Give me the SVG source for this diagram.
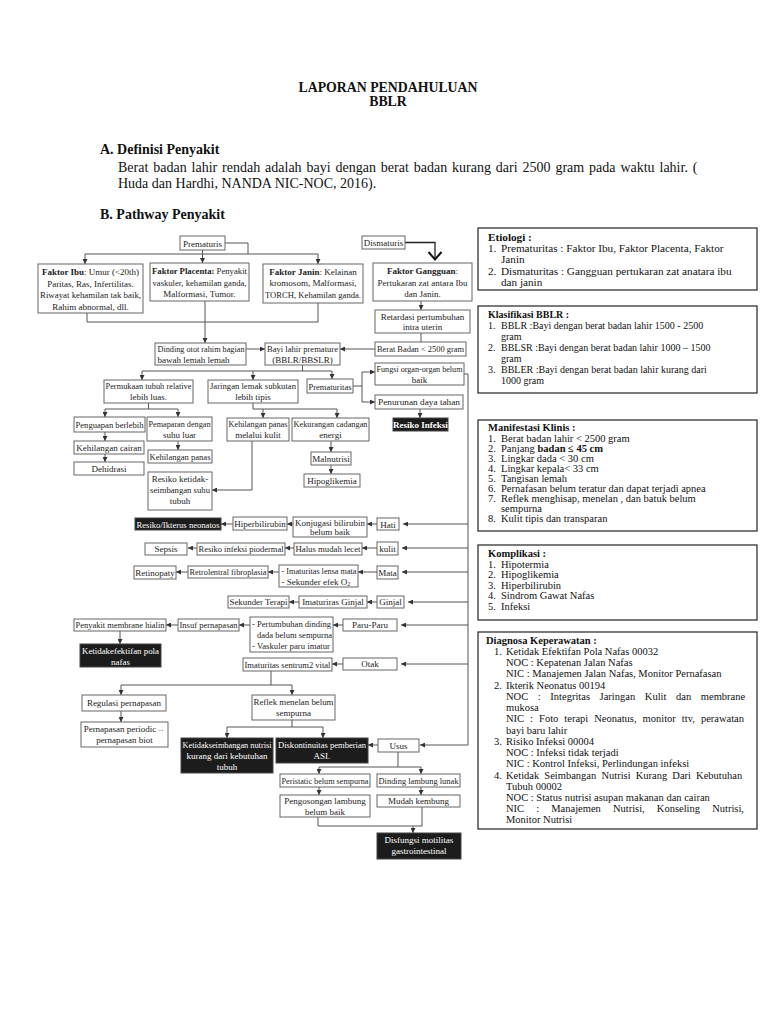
<svg xmlns="http://www.w3.org/2000/svg" width="768" height="1024" viewBox="0 0 768 1024">
<defs>
<style>
.bg{fill:#fff}
.h{font-family:"Liberation Serif",serif;font-weight:bold;fill:#111}
.p{font-family:"Liberation Serif",serif;font-size:14px;fill:#111}
.b{fill:#fff;stroke:#666;stroke-width:1}
.k{fill:#1c1c1c;stroke:#444;stroke-width:1}
.t{font-family:"Liberation Serif",serif;font-size:9px;fill:#222;text-anchor:middle}
.tl{font-family:"Liberation Serif",serif;font-size:9px;fill:#222}
.tw{font-family:"Liberation Serif",serif;font-size:9px;fill:#fff;text-anchor:middle}
.c{fill:none;stroke:#555;stroke-width:1}
.a{fill:none;stroke:#555;stroke-width:1;marker-end:url(#ah)}
.rb{fill:#fff;stroke:#222;stroke-width:1.2}
.r{font-family:"Liberation Serif",serif;font-size:10.5px;fill:#111}
.rh{font-family:"Liberation Serif",serif;font-size:10.5px;fill:#111;font-weight:bold}
.e{font-size:11.2px}
.s{font-size:10px}
</style>
<marker id="ah" viewBox="0 0 6 6" refX="6" refY="3" markerWidth="5" markerHeight="5" orient="auto" markerUnits="userSpaceOnUse"><path d="M0,0 L6,3 L0,6 z" fill="#333"/></marker>
</defs>
<rect class="bg" x="0" y="0" width="768" height="1024"/>

<g id="header">
<text class="h" x="388" y="92" font-size="13.8" text-anchor="middle">LAPORAN PENDAHULUAN</text>
<text class="h" x="388" y="106" font-size="13.8" text-anchor="middle">BBLR</text>
<text class="h" x="100" y="154" font-size="14">A.  Definisi Penyakit</text>
<text class="p" x="118" y="172" word-spacing="1.4">Berat badan lahir rendah adalah bayi dengan berat badan kurang dari 2500 gram pada waktu lahir. (</text>
<text class="p" x="118" y="188">Huda dan Hardhi, NANDA NIC-NOC, 2016).</text>
<text class="h" x="100" y="219" font-size="14">B.  Pathway Penyakit</text>
</g>

<g id="connectors">
<path class="a" d="M202.5,250 V263"/>
<path class="c" d="M225,243 H248 V254"/>
<path class="c" d="M85,254 H318"/>
<path class="a" d="M85,254 V264"/>
<path class="a" d="M318,254 V264"/>
<path class="c" d="M87,313 V322 H318 V303"/>
<path class="a" d="M205,301 V343"/>
<path fill="none" stroke="#222" stroke-width="1.3" d="M405,242.5 H435 V259"/>
<path fill="none" stroke="#111" stroke-width="2" d="M428.5,252 L435,259.5 L441.5,252"/>
<path class="a" d="M421,300 V310"/>
<path class="c" d="M421,333 V342"/>
<path class="a" d="M375,349 H340"/>
<path class="a" d="M246,349 H265"/>
<path class="c" d="M302.5,365 V371 M142,371 H332"/>
<path class="a" d="M142,371 V380"/>
<path class="a" d="M253,371 V380"/>
<path class="a" d="M332,371 V379"/>
<path class="c" d="M353,386 H362 M362,372 V402"/>
<path class="a" d="M362,372 H375"/>
<path class="a" d="M362,402 H375"/>
<path class="a" d="M420,409 V418"/>
<path class="c" d="M464,374 H468 V745"/>
<path class="a" d="M468,524 H403"/>
<path class="a" d="M468,548 H402"/>
<path class="a" d="M468,572 H402"/>
<path class="a" d="M468,602 H408"/>
<path class="a" d="M468,625 H401"/>
<path class="a" d="M468,664 H401"/>
<path class="a" d="M468,745 H420"/>
<path class="c" d="M148.5,403 V409 M105,409 H178"/>
<path class="a" d="M105,409 V417"/>
<path class="a" d="M178,409 V417"/>
<path class="a" d="M105,432 V441"/>
<path class="a" d="M105,454 V462"/>
<path class="a" d="M178,441 V450"/>
<path class="c" d="M253,403 V409 H337"/>
<path class="a" d="M263,409 V418"/>
<path class="a" d="M337,409 V418"/>
<path class="a" d="M252,441 V490 H212"/>
<path class="a" d="M331,441 V452"/>
<path class="a" d="M331,465 V474"/>
<path class="a" d="M377,524 H367"/>
<path class="a" d="M293,524 H287"/>
<path class="a" d="M233,524 H221"/>
<path class="a" d="M377,548 H362"/>
<path class="a" d="M294,548 H285"/>
<path class="a" d="M197,548 H188"/>
<path class="a" d="M377,572 H358"/>
<path class="a" d="M279,572 H268"/>
<path class="a" d="M188,572 H176"/>
<path class="a" d="M377,602 H367"/>
<path class="a" d="M299,602 H289"/>
<path class="a" d="M343,625 H333"/>
<path class="a" d="M250,625 H239"/>
<path class="a" d="M178,625 H166"/>
<path class="a" d="M120,631 V644"/>
<path class="a" d="M343,664 H332"/>
<path class="c" d="M271,671 V685 M121,685 H292"/>
<path class="a" d="M121,685 V695"/>
<path class="a" d="M292,685 V695"/>
<path class="a" d="M121,711 V722"/>
<path class="c" d="M292,720 V727 M227,727 H323"/>
<path class="a" d="M227,727 V738"/>
<path class="a" d="M323,727 V738"/>
<path class="a" d="M378,745 H368"/>
<path class="c" d="M398,752 V767 M319,767 H421"/>
<path class="a" d="M319,767 V774"/>
<path class="a" d="M421,767 V774"/>
<path class="a" d="M319,787 V795"/>
<path class="a" d="M421,787 V795"/>
<path class="c" d="M318,817 V826 H422 V807"/>
<path class="a" d="M413,826 V833"/>
</g>

<g id="prematuris"><rect class="b" x="180" y="236" width="45" height="14"/><text class="t" x="202.5" y="246.5">Prematuris</text></g>
<g id="dismaturis"><rect class="b" x="362" y="236" width="43" height="13"/><text class="t" x="383.5" y="246">Dismaturis</text></g>
<g id="faktor-ibu"><rect class="b" x="38" y="264" width="105" height="49"/>
<text class="t" x="90.5" y="275"><tspan font-weight="bold">Faktor Ibu</tspan>: Umur (&lt;20th)</text>
<text class="t" x="90.5" y="286.5">Paritas, Ras, Infertilitas.</text>
<text class="t" x="90.5" y="298" textLength="101" lengthAdjust="spacingAndGlyphs">Riwayat kehamilan tak baik,</text>
<text class="t" x="90.5" y="309.5">Rahim abnormal, dll.</text></g>
<g id="faktor-placenta"><rect class="b" x="150" y="263" width="99" height="38"/>
<text class="t" x="199.5" y="274" textLength="95" lengthAdjust="spacingAndGlyphs"><tspan font-weight="bold">Faktor Placenta:</tspan> Penyakit</text>
<text class="t" x="199.5" y="285.5" textLength="94" lengthAdjust="spacingAndGlyphs">vaskuler, kehamilan ganda,</text>
<text class="t" x="199.5" y="297">Malformasi, Tumor.</text></g>
<g id="faktor-janin"><rect class="b" x="263" y="264" width="100" height="39"/>
<text class="t" x="313" y="274.5"><tspan font-weight="bold">Faktor Janin</tspan>: Kelainan</text>
<text class="t" x="313" y="286">kromosom, Malformasi,</text>
<text class="t" x="313" y="297.5" textLength="96" lengthAdjust="spacingAndGlyphs">TORCH, Kehamilan ganda.</text></g>
<g id="faktor-gangguan"><rect class="b" x="373" y="263" width="99" height="38"/>
<text class="t" x="422.5" y="274"><tspan font-weight="bold">Faktor Gangguan</tspan>:</text>
<text class="t" x="422.5" y="285.5">Pertukaran zat antara Ibu</text>
<text class="t" x="422.5" y="297">dan Janin.</text></g>
<g id="retardasi"><rect class="b" x="375" y="310" width="95" height="23"/>
<text class="t" x="422.5" y="319.5">Retardasi pertumbuhan</text>
<text class="t" x="422.5" y="330">intra uterin</text></g>
<g id="berat-badan"><rect class="b" x="375" y="342" width="91" height="14"/><text class="t" x="420.5" y="352" textLength="87" lengthAdjust="spacingAndGlyphs">Berat Badan &lt; 2500 gram</text></g>
<g id="dinding-otot"><rect class="b" x="155" y="343" width="91" height="22"/>
<text class="tl" x="157.5" y="352" textLength="87" lengthAdjust="spacingAndGlyphs">Dinding otot rahim bagian</text>
<text class="tl" x="157.5" y="362.5">bawah lemah lemah</text></g>
<g id="bayi-lahir"><rect class="b" x="265" y="343" width="75" height="22"/>
<text class="t" x="302.5" y="352" textLength="71" lengthAdjust="spacingAndGlyphs">Bayi lahir premature</text>
<text class="t" x="302.5" y="362.5">(BBLR/BBSLR)</text></g>
<g id="permukaan"><rect class="b" x="104" y="380" width="89" height="23"/>
<text class="t" x="148.5" y="389" textLength="86" lengthAdjust="spacingAndGlyphs">Permukaan tubuh relative</text>
<text class="t" x="148.5" y="400">lebih luas.</text></g>
<g id="jaringan-lemak"><rect class="b" x="208" y="380" width="90" height="23"/>
<text class="t" x="253" y="389" textLength="86" lengthAdjust="spacingAndGlyphs">Jaringan lemak subkutan</text>
<text class="t" x="253" y="400">lebih tipis</text></g>
<g id="prematuritas"><rect class="b" x="307" y="379" width="46" height="14"/><text class="t" x="330" y="389.5" textLength="43" lengthAdjust="spacingAndGlyphs">Prematuritas</text></g>
<g id="fungsi-organ"><rect class="b" x="375" y="363" width="89" height="22"/>
<text class="t" x="419.5" y="372" textLength="86" lengthAdjust="spacingAndGlyphs">Fungsi organ-organ belum</text>
<text class="t" x="419.5" y="382.5">baik</text></g>
<g id="penurunan"><rect class="b" x="375" y="395" width="88" height="14"/><text class="t" x="419" y="405" textLength="82" lengthAdjust="spacingAndGlyphs">Penurunan daya tahan</text></g>
<g id="resiko-infeksi"><rect class="k" x="393" y="418" width="55" height="13"/><text class="tw" x="420.5" y="428" font-weight="bold">Resiko Infeksi</text></g>
<g id="penguapan"><rect class="b" x="74" y="417" width="71" height="15"/><text class="t" x="109.5" y="428" textLength="68" lengthAdjust="spacingAndGlyphs">Penguapan berlebih</text></g>
<g id="pemaparan"><rect class="b" x="147" y="417" width="65" height="24"/>
<text class="t" x="179.5" y="427" textLength="62" lengthAdjust="spacingAndGlyphs">Pemaparan dengan</text>
<text class="t" x="179.5" y="438">suhu luar</text></g>
<g id="kehilangan-cairan"><rect class="b" x="74" y="441" width="70" height="13"/><text class="t" x="109" y="451">Kehilangan cairan</text></g>
<g id="dehidrasi"><rect class="b" x="74" y="462" width="70" height="13"/><text class="t" x="109" y="472">Dehidrasi</text></g>
<g id="kehilangan-panas"><rect class="b" x="148" y="450" width="64" height="13"/><text class="t" x="180" y="460" textLength="61" lengthAdjust="spacingAndGlyphs">Kehilangan panas</text></g>
<g id="resiko-suhu"><rect class="b" x="148" y="472" width="64" height="38"/>
<text class="t" x="180" y="482">Resiko ketidak-</text>
<text class="t" x="180" y="493" textLength="60" lengthAdjust="spacingAndGlyphs">seimbangan suhu</text>
<text class="t" x="180" y="504">tubuh</text></g>
<g id="kehilangan-kulit"><rect class="b" x="227" y="418" width="62" height="23"/>
<text class="t" x="258" y="427" textLength="59" lengthAdjust="spacingAndGlyphs">Kehilangan panas</text>
<text class="t" x="258" y="438">melalui kulit</text></g>
<g id="kekurangan-energi"><rect class="b" x="292" y="418" width="77" height="23"/>
<text class="t" x="330.5" y="427" textLength="74" lengthAdjust="spacingAndGlyphs">Kekurangan cadangan</text>
<text class="t" x="330.5" y="438">energi</text></g>
<g id="malnutrisi"><rect class="b" x="311" y="452" width="40" height="13"/><text class="t" x="331" y="461.5">Malnutrisi</text></g>
<g id="hipoglikemia"><rect class="b" x="304" y="474" width="56" height="13"/><text class="t" x="332" y="484">Hipoglikemia</text></g>

<g id="hati"><rect class="b" x="377" y="518" width="22" height="12"/><text class="t" x="388" y="527.5">Hati</text></g>
<g id="konjugasi"><rect class="b" x="293" y="517" width="74" height="20"/>
<text class="t" x="330" y="525.5" textLength="70" lengthAdjust="spacingAndGlyphs">Konjugasi bilirubin</text>
<text class="t" x="330" y="535">belum baik</text></g>
<g id="hiperbilirubin"><rect class="b" x="233" y="517" width="54" height="13"/><text class="t" x="260" y="527">Hiperbilirubin</text></g>
<g id="ikterus"><rect class="k" x="135" y="518" width="86" height="12"/><text class="tw" x="178" y="527.5" textLength="83" lengthAdjust="spacingAndGlyphs">Resiko/Ikterus neonatos</text></g>
<g id="kulit"><rect class="b" x="377" y="542" width="21" height="13"/><text class="t" x="387.5" y="551.5">kulit</text></g>
<g id="halus"><rect class="b" x="294" y="543" width="68" height="12"/><text class="t" x="328" y="552" textLength="65" lengthAdjust="spacingAndGlyphs">Halus mudah lecet</text></g>
<g id="piodermal"><rect class="b" x="197" y="543" width="88" height="12"/><text class="t" x="241" y="552" textLength="85" lengthAdjust="spacingAndGlyphs">Resiko infeksi piodermal</text></g>
<g id="sepsis"><rect class="b" x="145" y="543" width="42" height="12"/><text class="t" x="166" y="552">Sepsis</text></g>
<g id="mata"><rect class="b" x="377" y="566" width="21" height="13"/><text class="t" x="387.5" y="575.5">Mata</text></g>
<g id="imaturitas-lensa"><rect class="b" x="279" y="565" width="79" height="22"/>
<text class="tl" x="281.5" y="574" textLength="75" lengthAdjust="spacingAndGlyphs">- Imaturitas lensa mata</text>
<text class="tl" x="281.5" y="584.5">- Sekunder efek O<tspan font-size="6" dy="1.5">2</tspan></text></g>
<g id="retrolentral"><rect class="b" x="188" y="566" width="80" height="12"/><text class="t" x="228" y="575" textLength="77" lengthAdjust="spacingAndGlyphs">Retrolentral fibroplasia</text></g>
<g id="retinopaty"><rect class="b" x="134" y="566" width="42" height="13"/><text class="t" x="155" y="575.5">Retinopaty</text></g>
<g id="ginjal"><rect class="b" x="377" y="596" width="27" height="12"/><text class="t" x="390.5" y="605">Ginjal</text></g>
<g id="imaturiras-ginjal"><rect class="b" x="299" y="596" width="68" height="12"/><text class="t" x="333" y="605">Imaturiras Ginjal</text></g>
<g id="sekunder-terapi"><rect class="b" x="228" y="596" width="61" height="12"/><text class="t" x="258.5" y="605" textLength="58" lengthAdjust="spacingAndGlyphs">Sekunder Terapi</text></g>
<g id="paru"><rect class="b" x="343" y="619" width="54" height="12"/><text class="t" x="370" y="628">Paru-Paru</text></g>
<g id="pertumbuhan"><rect class="b" x="250" y="617" width="83" height="35"/>
<text class="tl" x="252" y="627" textLength="79" lengthAdjust="spacingAndGlyphs">- Pertumbuhan dinding</text>
<text class="tl" x="257" y="638" textLength="75" lengthAdjust="spacingAndGlyphs">dada belum sempurna</text>
<text class="tl" x="252" y="649" textLength="78" lengthAdjust="spacingAndGlyphs">- Vaskuler paru imatur</text></g>
<g id="insuf"><rect class="b" x="178" y="619" width="61" height="12"/><text class="t" x="208.5" y="628" textLength="58" lengthAdjust="spacingAndGlyphs">Insuf pernapasan</text></g>
<g id="hialin"><rect class="b" x="74" y="619" width="92" height="12"/><text class="t" x="120" y="628" textLength="89" lengthAdjust="spacingAndGlyphs">Penyakit membrane hialin</text></g>
<g id="pola-nafas"><rect class="k" x="80" y="644" width="81" height="23"/>
<text class="tw" x="120.5" y="654" textLength="77" lengthAdjust="spacingAndGlyphs">Ketidakefektifan pola</text>
<text class="tw" x="120.5" y="664.5">nafas</text></g>
<g id="otak"><rect class="b" x="343" y="658" width="54" height="12"/><text class="t" x="370" y="667">Otak</text></g>
<g id="sentrum"><rect class="b" x="243" y="658" width="89" height="13"/><text class="t" x="287.5" y="667.5" textLength="86" lengthAdjust="spacingAndGlyphs">Imaturitas sentrum2 vital</text></g>
<g id="regulasi"><rect class="b" x="82" y="695" width="84" height="16"/><text class="t" x="124" y="706">Regulasi pernapasan</text></g>
<g id="periodic"><rect class="b" x="81" y="722" width="87" height="25"/>
<text class="t" x="124.5" y="732">Pernapasan periodic<tspan fill="#aaa">→</tspan></text>
<text class="t" x="124.5" y="743">pernapasan biot</text></g>
<g id="reflek"><rect class="b" x="252" y="695" width="83" height="25"/>
<text class="t" x="293.5" y="705" textLength="80" lengthAdjust="spacingAndGlyphs">Reflek menelan belum</text>
<text class="t" x="293.5" y="716">sempurna</text></g>
<g id="nutrisi"><rect class="k" x="181" y="738" width="92" height="35"/>
<text class="tw" x="227" y="748" textLength="89" lengthAdjust="spacingAndGlyphs">Ketidakseimbangan nutrisi</text>
<text class="tw" x="227" y="759">kurang dari kebutuhan</text>
<text class="tw" x="227" y="770">tubuh</text></g>
<g id="asi"><rect class="k" x="276" y="738" width="92" height="25"/>
<text class="tw" x="322" y="748" textLength="88" lengthAdjust="spacingAndGlyphs">Diskontinuitas pemberian</text>
<text class="tw" x="322" y="759">ASI.</text></g>
<g id="usus"><rect class="b" x="378" y="739" width="41" height="13"/><text class="t" x="398.5" y="748.5">Usus</text></g>
<g id="peristatic"><rect class="b" x="280" y="774" width="90" height="13"/><text class="t" x="325" y="783.5" textLength="87" lengthAdjust="spacingAndGlyphs">Peristatic belum sempurna</text></g>
<g id="dinding-lambung"><rect class="b" x="377" y="774" width="83" height="13"/><text class="t" x="418.5" y="783.5" textLength="80" lengthAdjust="spacingAndGlyphs">Dinding lambung lunak</text></g>
<g id="pengosongan"><rect class="b" x="280" y="795" width="90" height="22"/>
<text class="t" x="325" y="804">Pengosongan lambung</text>
<text class="t" x="325" y="814.5">belum baik</text></g>
<g id="kembung"><rect class="b" x="377" y="795" width="83" height="12"/><text class="t" x="418.5" y="804">Mudah kembung</text></g>
<g id="disfungsi"><rect class="k" x="377" y="833" width="84" height="26"/>
<text class="tw" x="419" y="843">Disfungsi motilitas</text>
<text class="tw" x="419" y="854">gastrointestinal</text></g>

<g id="etiologi"><rect class="rb" x="478" y="228" width="279" height="62"/>
<text class="rh e" x="488" y="241">Etiologi :</text>
<text class="r e" x="488" y="252">1.</text><text class="r e" x="501" y="252">Prematuritas : Faktor Ibu, Faktor Placenta, Faktor</text>
<text class="r e" x="501" y="263">Janin</text>
<text class="r e" x="488" y="275">2.</text><text class="r e" x="501" y="275">Dismaturitas : Gangguan pertukaran zat anatara ibu</text>
<text class="r e" x="501" y="286">dan janin</text></g>

<g id="klasifikasi"><rect class="rb" x="478" y="306" width="279" height="87"/>
<text class="rh s" x="488" y="318">Klasifikasi BBLR :</text>
<text class="r s" x="488" y="329">1.</text><text class="r s" x="501" y="329">BBLR :Bayi dengan berat badan lahir 1500 - 2500</text>
<text class="r s" x="501" y="340">gram</text>
<text class="r s" x="488" y="351">2.</text><text class="r s" x="501" y="351">BBLSR :Bayi dengan berat badan lahir 1000 – 1500</text>
<text class="r s" x="501" y="362">gram</text>
<text class="r s" x="488" y="373">3.</text><text class="r s" x="501" y="373">BBLER :Bayi dengan berat badan lahir kurang dari</text>
<text class="r s" x="501" y="384">1000 gram</text></g>

<g id="manifestasi"><rect class="rb" x="478" y="420" width="279" height="111"/>
<text class="rh" x="488" y="431">Manifestasi Klinis :</text>
<text class="r" x="488" y="441.5">1.</text><text class="r" x="501" y="441.5">Berat badan lahir &lt; 2500 gram</text>
<text class="r" x="488" y="451.5">2.</text><text class="r" x="501" y="451.5">Panjang <tspan font-weight="bold">badan ≤ 45 cm</tspan></text>
<text class="r" x="488" y="461.5">3.</text><text class="r" x="501" y="461.5">Lingkar dada &lt; 30 cm</text>
<text class="r" x="488" y="471.5">4.</text><text class="r" x="501" y="471.5">Lingkar kepala&lt; 33 cm</text>
<text class="r" x="488" y="481.5">5.</text><text class="r" x="501" y="481.5">Tangisan lemah</text>
<text class="r" x="488" y="491.5">6.</text><text class="r" x="501" y="491.5">Pernafasan belum teratur dan dapat terjadi apnea</text>
<text class="r" x="488" y="501.5">7.</text><text class="r" x="501" y="501.5">Reflek menghisap, menelan , dan batuk belum</text>
<text class="r" x="501" y="511.5">sempurna</text>
<text class="r" x="488" y="521.5">8.</text><text class="r" x="501" y="521.5">Kulit tipis dan transparan</text></g>

<g id="komplikasi"><rect class="rb" x="478" y="545" width="279" height="75"/>
<text class="rh" x="488" y="557">Komplikasi :</text>
<text class="r" x="488" y="567.5">1.</text><text class="r" x="501" y="567.5">Hipotermia</text>
<text class="r" x="488" y="578">2.</text><text class="r" x="501" y="578">Hipoglikemia</text>
<text class="r" x="488" y="588.5">3.</text><text class="r" x="501" y="588.5">Hiperbilirubin</text>
<text class="r" x="488" y="599">4.</text><text class="r" x="501" y="599">Sindrom Gawat Nafas</text>
<text class="r" x="488" y="609.5">5.</text><text class="r" x="501" y="609.5">Infeksi</text></g>

<g id="diagnosa"><rect class="rb" x="478" y="632" width="279" height="197"/>
<text class="rh" x="486" y="644">Diagnosa Keperawatan :</text>
<text class="r" x="494" y="655">1.</text><text class="r" x="506" y="655">Ketidak Efektifan Pola Nafas 00032</text>
<text class="r" x="506" y="666">NOC : Kepatenan Jalan Nafas</text>
<text class="r" x="506" y="677">NIC  : Manajemen Jalan Nafas, Monitor Pernafasan</text>
<text class="r" x="494" y="688.5">2.</text><text class="r" x="506" y="688.5">Ikterik Neonatus 00194</text>
<text class="r" x="506" y="700" word-spacing="7">NOC : Integritas Jaringan Kulit dan membrane</text>
<text class="r" x="506" y="711">mukosa</text>
<text class="r" x="506" y="722" word-spacing="3.4">NIC : Foto terapi Neonatus, monitor ttv, perawatan</text>
<text class="r" x="506" y="733.5">bayi baru lahir</text>
<text class="r" x="494" y="745">3.</text><text class="r" x="506" y="745">Risiko Infeksi 00004</text>
<text class="r" x="506" y="756">NOC : Infeksi tidak terjadi</text>
<text class="r" x="506" y="767">NIC  : Kontrol Infeksi, Perlindungan infeksi</text>
<text class="r" x="494" y="778.5">4.</text><text class="r" x="506" y="778.5" word-spacing="2.5">Ketidak Seimbangan Nutrisi Kurang Dari Kebutuhan</text>
<text class="r" x="506" y="790">Tubuh 00002</text>
<text class="r" x="506" y="801">NOC : Status nutrisi asupan makanan dan cairan</text>
<text class="r" x="506" y="812" word-spacing="9.5">NIC : Manajemen Nutrisi, Konseling Nutrisi,</text>
<text class="r" x="506" y="823">Monitor Nutrisi</text></g>
</svg>
